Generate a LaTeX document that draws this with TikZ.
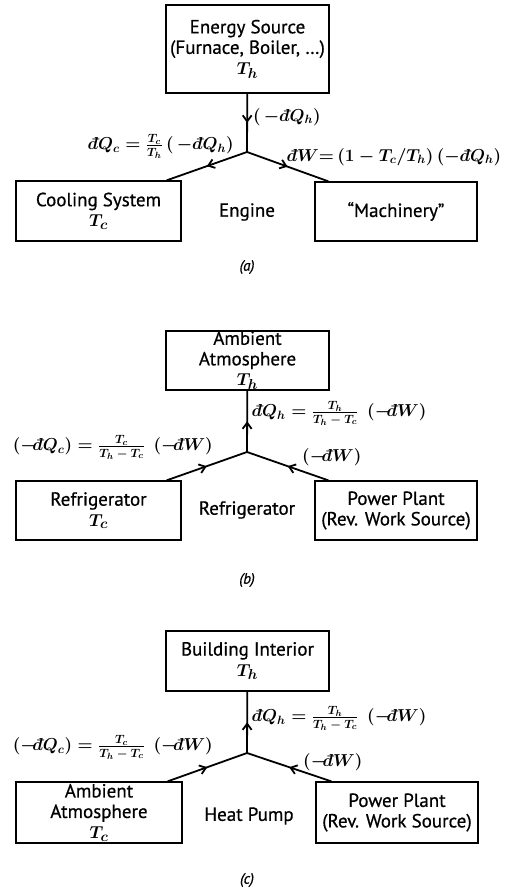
\documentclass[tikz,border=0pt]{standalone}
\usepackage{amsmath, amssymb}
\usepackage[no-math]{fontspec}
\setmainfont{PT Sans}[FakeBold=0.6]
\usepackage{tikz}
\usetikzlibrary{arrows.meta, decorations.markings}

\newcommand{\inexd}{{\mathchar'26\mkern-12mu d}}
\newcommand{\smallpart}[1]{\mbox{\fontsize{13}{14}\selectfont\boldmath$#1$}}
\newcommand{\ratio}[2]{\frac{\smallpart{#1}}{\smallpart{#2}}}

\tikzset{
  box/.style={draw, line width=1.3pt, align=center, inner sep=0pt,
    font=\fontsize{19}{20.5}\selectfont\boldmath},
  lbl/.style={inner sep=1pt, font=\fontsize{18}{20}\selectfont\boldmath},
  plain/.style={inner sep=1pt, font=\fontsize{19}{20.5}\selectfont},
  panelcap/.style={font=\fontsize{15}{18}\selectfont\itshape},
  flow/.style={line width=1.8pt, postaction={decorate},
    decoration={markings, mark=at position 0.5 with {\arrow{Straight Barb[length=6pt,width=9pt]}}}},
}

\begin{document}
\begin{tikzpicture}[x=1pt, y=-1pt]
  \useasboundingbox (0,0) rectangle (509,893);

  % (a) engine
  \node[box, minimum width=163pt, minimum height=88pt] (aS) at (247.5,49) {Energy Source\\(Furnace, Boiler, \dots)\\$T_h$};
  \node[box, minimum width=165pt, minimum height=60pt] (aC) at (98.5,211) {Cooling System\\$T_c$};
  \node[box, minimum width=162pt, minimum height=59pt] (aM) at (396,211.5) {``Machinery''};
  \coordinate (aJ) at (247,152);
  \draw[flow] (aS) -- (aJ) node[lbl, pos=0.4, right=4pt] {$(\,-\,\inexd Q_h)$};
  \draw[flow] (aJ) -- ([xshift=-15pt]aC.north east);
  \draw[flow] (aJ) -- ([xshift=14pt]aM.north west);
  \node[lbl, anchor=east] (aQc) at (235,146) {$\inexd Q_c = \ratio{T_c}{T_h}\,(\,-\,\inexd Q_h)$};
  \node[lbl, anchor=west] (aW) at (289,157) {$\inexd W {=}\, (1-T_c/T_h)\,(-\,\inexd Q_h)$};
  \node[plain] (aEng) at (247,212) {Engine};
  \node[panelcap] (aCap) at (247,267) {(a)};

  % (b) refrigerator
  \node[box, minimum width=163pt, minimum height=59pt] (bA) at (247.5,360.5) {Ambient\\Atmosphere\\$T_h$};
  \node[box, minimum width=165pt, minimum height=59pt] (bR) at (98.5,510.5) {Refrigerator\\$T_c$};
  \node[box, minimum width=162pt, minimum height=59pt] (bP) at (396,510.5) {Power Plant\\(Rev. Work Source)};
  \coordinate (bJ) at (247,452);
  \draw[flow] (bJ) -- (bA);
  \draw[flow] ([xshift=-15pt]bR.north east) -- (bJ);
  \draw[flow] ([xshift=14pt]bP.north west) -- (bJ);
  \node[lbl, anchor=west] (bQh) at (254,413) {$\inexd Q_h = \ratio{T_h}{T_h-T_c}\;\,(-\inexd W)$};
  \node[lbl, anchor=east] (bQc) at (214,447) {$(-\inexd Q_c) = \ratio{T_c}{T_h-T_c}\;\,(-\inexd W)$};
  \node[lbl, anchor=west] (bW) at (301,457) {$(-\inexd W)$};
  \node[plain] (bRef) at (247,510) {Refrigerator};
  \node[panelcap] (bCap) at (247,580) {(b)};

  % (c) heat pump
  \node[box, minimum width=163pt, minimum height=60pt] (cB) at (247.5,661) {Building Interior\\$T_h$};
  \node[box, minimum width=166pt, minimum height=61pt] (cA) at (99,812.5) {Ambient\\Atmosphere\\$T_c$};
  \node[box, minimum width=162pt, minimum height=61pt] (cP) at (397,812.5) {Power Plant\\(Rev. Work Source)};
  \coordinate (cJ) at (247,753);
  \draw[flow] (cJ) -- (cB);
  \draw[flow] ([xshift=-15pt]cA.north east) -- (cJ);
  \draw[flow] ([xshift=16pt]cP.north west) -- (cJ);
  \node[lbl, anchor=west] (cQh) at (254,718) {$\inexd Q_h = \ratio{T_h}{T_h-T_c}\;\,(-\inexd W)$};
  \node[lbl, anchor=east] (cQc) at (214,747) {$(-\inexd Q_c) = \ratio{T_c}{T_h-T_c}\;\,(-\inexd W)$};
  \node[lbl, anchor=west] (cW) at (302,762) {$(-\inexd W)$};
  \node[plain] (cHP) at (249,816) {Heat Pump};
  \node[panelcap] (cCap) at (247,880) {(c)};
\end{tikzpicture}
\end{document}
